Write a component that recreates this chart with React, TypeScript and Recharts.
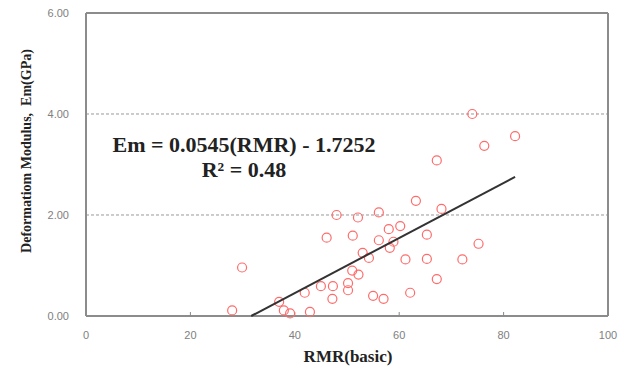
import React from "react";
import {
   ScatterChart,
   Scatter,
   XAxis,
   YAxis,
   ReferenceLine,
} from "recharts";

// RMR(basic) vs deformation modulus
const rmrValues = [
   74.0, 82.2, 76.3, 67.2, 63.2, 68.1, 48.0, 52.1, 56.1, 60.2, 58.0, 51.1,
   46.1, 65.3, 75.2, 56.1, 58.9, 58.2, 53.0, 54.2, 61.2, 65.3, 72.1, 29.9,
   51.0, 52.2, 67.2, 50.2, 50.2, 45.0, 47.3, 41.9, 37.0, 47.2, 55.0, 57.0,
   62.1, 28.0, 37.9, 39.1, 42.9,
];
const emValues = [
   4.0, 3.56, 3.37, 3.08, 2.28, 2.12, 2.0, 1.95, 2.05, 1.78, 1.72, 1.59,
   1.55, 1.61, 1.43, 1.5, 1.47, 1.35, 1.25, 1.15, 1.12, 1.13, 1.12, 0.96,
   0.9, 0.82, 0.73, 0.65, 0.51, 0.59, 0.59, 0.46, 0.28, 0.34, 0.4, 0.34,
   0.46, 0.11, 0.11, 0.05, 0.08,
];

// regression Em = 0.0545(RMR) - 1.7252
const slope = 0.0545;
const intercept = -1.7252;
const trendRmr = [31.65, 82.2];

const xTicks = [0, 20, 40, 60, 80, 100];
const yTicks = [0, 2, 4, 6];
const gridLevels = [2, 4];

const points = rmrValues.map((rmr, i) => ({ rmr, em: emValues[i] }));
const trendPoints = trendRmr.map((rmr) => ({ rmr, em: slope * rmr + intercept }));

const tickStyle = { fontSize: 11, fill: "#808080", fontFamily: "Liberation Sans, sans-serif" };
const serifBold = { fontFamily: "Liberation Serif, serif", fontWeight: 700, color: "#222" };

const OpenCircle = (props: any) => (
   <circle cx={props.cx} cy={props.cy} r={4.5} fill="none" stroke="#ff6b6b" strokeWidth={1.2} />
);

const App: React.FC = () => {
   return (
      <div style={{ position: "absolute", left: 0, top: 0, width: 623, height: 369, background: "#fff" }}>
         <ScatterChart width={623} height={369} margin={{ top: 13, right: 15, bottom: 23, left: 26 }}>
            <XAxis
               type="number"
               dataKey="rmr"
               domain={[0, 100]}
               ticks={xTicks}
               tick={tickStyle}
               tickSize={-4}
               tickMargin={19}
               tickLine={{ stroke: "#888" }}
               axisLine={{ stroke: "#8c8c8c", strokeWidth: 2 }}
               height={30}
            />
            <YAxis
               type="number"
               dataKey="em"
               domain={[0, 6]}
               ticks={yTicks}
               tick={tickStyle}
               tickFormatter={(v: number) => v.toFixed(2)}
               tickLine={false}
               tickSize={0}
               tickMargin={17}
               axisLine={{ stroke: "#8c8c8c", strokeWidth: 2 }}
               width={60}
            />
            {gridLevels.map((lv) => (
               <ReferenceLine key={lv} y={lv} stroke="#999" strokeDasharray="3 2" />
            ))}
            <ReferenceLine y={6} stroke="#8c8c8c" strokeWidth={2} />
            <ReferenceLine x={100} stroke="#8c8c8c" strokeWidth={2} />
            <Scatter data={points} shape={OpenCircle} isAnimationActive={false} />
            <Scatter
               data={trendPoints}
               line={{ stroke: "#333", strokeWidth: 2 }}
               shape={() => <g />}
               isAnimationActive={false}
            />
         </ScatterChart>
         <div
            style={{
               ...serifBold,
               position: "absolute",
               left: 27,
               top: 151,
               fontSize: 14,
               whiteSpace: "nowrap",
               transform: "translate(-50%, -50%) rotate(-90deg)",
            }}
         >
            Deformatiom Modulus,&nbsp; Em(GPa)
         </div>
         <div
            style={{
               ...serifBold,
               position: "absolute",
               left: 348,
               top: 357,
               fontSize: 17,
               whiteSpace: "nowrap",
               transform: "translate(-50%, -50%)",
            }}
         >
            RMR(basic)
         </div>
         <div
            style={{
               ...serifBold,
               position: "absolute",
               left: 244,
               top: 145,
               fontSize: 22,
               whiteSpace: "nowrap",
               transform: "translate(-50%, -50%)",
            }}
         >
            Em = 0.0545(RMR) - 1.7252
         </div>
         <div
            style={{
               ...serifBold,
               position: "absolute",
               left: 244,
               top: 170,
               fontSize: 22,
               whiteSpace: "nowrap",
               transform: "translate(-50%, -50%)",
            }}
         >
            R² = 0.48
         </div>
      </div>
   );
};

export default App;
